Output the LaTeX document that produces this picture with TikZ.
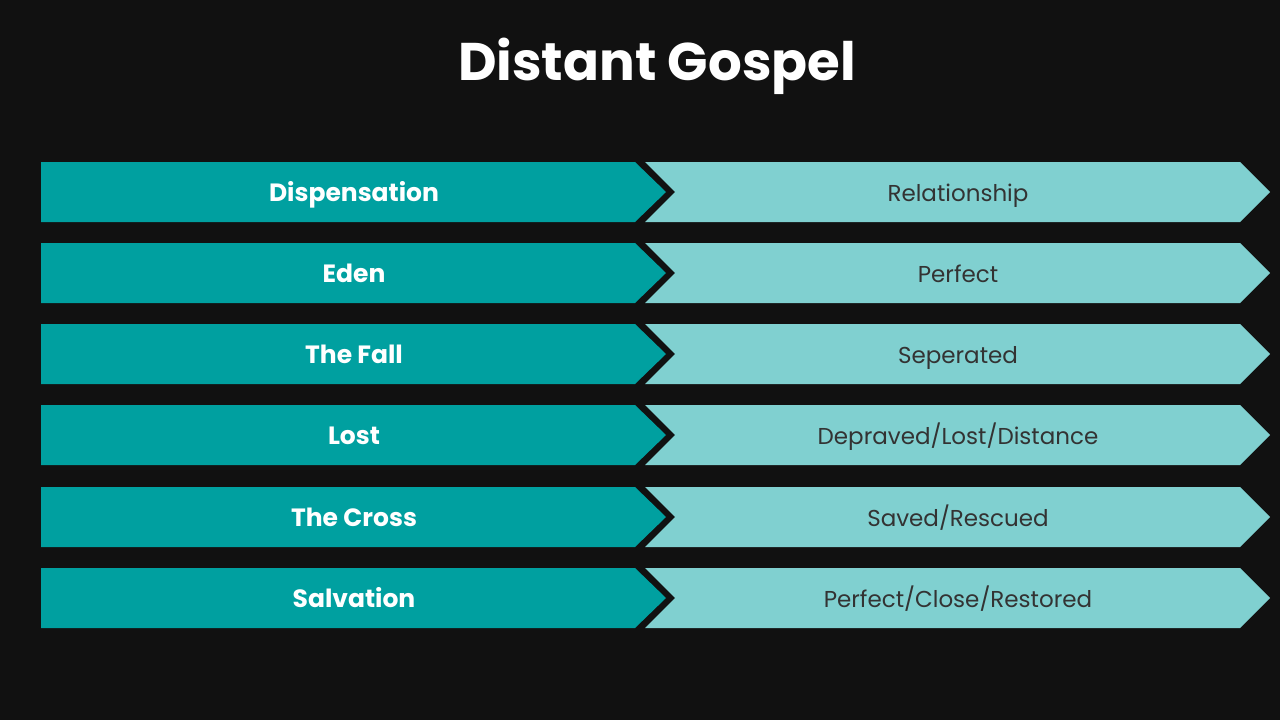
\documentclass[tikz,border=0pt]{standalone}
\usepackage{fontspec}
\setmainfont{Poppins}
\definecolor{bg}{HTML}{111111}
\definecolor{dk}{HTML}{00A0A0}
\definecolor{lt}{HTML}{80D0D0}
\begin{document}
\begin{tikzpicture}[x=1pt,y=-1pt,
  lab/.style={font=\bfseries\fontsize{25}{28}\selectfont,text=white,inner sep=0pt,anchor=base},
  val/.style={font=\fontsize{23}{26}\selectfont,text=black!80,inner sep=0pt,anchor=base}]
\fill[bg] (0,0) rectangle (1280,720);
\useasboundingbox (0,0) rectangle (1280,720);
\node[font=\bfseries\fontsize{53}{60}\selectfont,text=white,inner sep=0pt,anchor=base] (title) at (657,80) {Distant Gospel};
\foreach \t/\l/\r/\i in {162/Dispensation/Relationship/1,243/Eden/Perfect/2,324/The Fall/Seperated/3,405/Lost/Depraved\slash Lost\slash Distance/4,487/The Cross/Saved\slash Rescued/5,568/Salvation/Perfect\slash Close\slash Restored/6}{
  \pgfmathsetmacro\b{\t+60}\pgfmathsetmacro\m{\t+30}
  \pgfmathsetmacro\bl{\t+39}
  \fill[dk] (41,\t) -- (635,\t) -- (666,\m) -- (635,\b) -- (41,\b) -- cycle;
  \fill[lt] (645,\t) -- (1240,\t) -- (1270,\m) -- (1240,\b) -- (645,\b) -- (675,\m) -- cycle;
  \node[lab] (l\i) at (354,\bl) {\l};
  \node[val] (r\i) at (958,\bl) {\r};
}
\end{tikzpicture}
\end{document}
